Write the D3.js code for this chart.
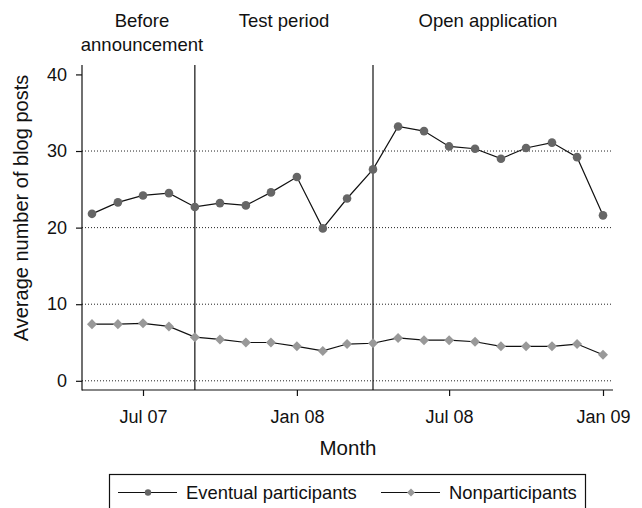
<!DOCTYPE html>
<html>
<head>
<meta charset="utf-8">
<script src="https://cdn.jsdelivr.net/npm/d3@7"></script>
<style>
  body { margin: 0; background: #fff; }
  text { font-family: "Liberation Sans", Arial, sans-serif; fill: #111; }
</style>
</head>
<body>
<div id="chart"></div>
<script>
const months = [
  "2007-05", "2007-06", "2007-07", "2007-08", "2007-09", "2007-10", "2007-11",
  "2007-12", "2008-01", "2008-02", "2008-03", "2008-04", "2008-05", "2008-06",
  "2008-07", "2008-08", "2008-09", "2008-10", "2008-11", "2008-12", "2009-01"
];
const eventual = [21.8, 23.3, 24.2, 24.5, 22.7, 23.2, 22.9, 24.6, 26.6, 19.9, 23.8,
  27.6, 33.2, 32.6, 30.6, 30.3, 29.0, 30.4, 31.1, 29.2, 21.6];
const nonpart = [7.4, 7.4, 7.5, 7.1, 5.7, 5.4, 5.0, 5.0, 4.5, 3.9, 4.8,
  4.9, 5.6, 5.3, 5.3, 5.1, 4.5, 4.5, 4.5, 4.8, 3.4];
const yTicks = [0, 10, 20, 30, 40];
const gridValues = [0, 10, 20, 30];
const xTicks = ["2007-07", "2008-01", "2008-07", "2009-01"];
const xTickLabels = ["Jul 07", "Jan 08", "Jul 08", "Jan 09"];
const periodBreaks = ["2007-09", "2008-04"];
const periodLabels = [
  { lines: ["Before", "announcement"], x: 142 },
  { lines: ["Test period"], x: 284 },
  { lines: ["Open application"], x: 488 }
];

const parse = d3.timeParse("%Y-%m");
const size = { width: 642, height: 508 };
const plot = { left: 82, right: 613, top: 65, bottom: 390 };

const svg = d3.select("#chart").append("svg")
  .attr("width", size.width)
  .attr("height", size.height);

const x = d3.scaleTime()
  .domain([parse("2007-07"), parse("2009-01")])
  .range([143, 603]);
const y = d3.scaleLinear().domain([-1.2, 41.23]).range([plot.bottom, plot.top]);

// dotted grid
svg.selectAll("line.grid").data(gridValues).join("line")
  .attr("class", "grid")
  .attr("x1", plot.left).attr("x2", plot.right - 1)
  .attr("y1", (d) => y(d)).attr("y2", (d) => y(d))
  .attr("stroke", "#222").attr("stroke-width", 1)
  .attr("stroke-dasharray", "1,2");

// period lines
svg.selectAll("line.period").data(periodBreaks).join("line")
  .attr("class", "period")
  .attr("x1", (d) => x(parse(d))).attr("x2", (d) => x(parse(d)))
  .attr("y1", plot.top).attr("y2", plot.bottom)
  .attr("stroke", "#111").attr("stroke-width", 1.2);

// axes
const yAxis = svg.append("g")
  .attr("transform", `translate(${plot.left},0)`)
  .call(d3.axisLeft(y).tickValues(yTicks).tickSize(6).tickSizeOuter(0).tickPadding(9));
const xAxis = svg.append("g")
  .attr("transform", `translate(0,${plot.bottom})`)
  .call(d3.axisBottom(x).tickValues(xTicks.map(parse)).tickSize(6).tickPadding(14)
    .tickFormat((d, i) => xTickLabels[i]));
[yAxis, xAxis].forEach((g) => {
  g.select(".domain").remove();
  g.selectAll("line").attr("stroke", "#111").attr("stroke-width", 1.2);
  g.selectAll("text").attr("font-size", 18).attr("fill", "#111")
    .style("font-family", "'Liberation Sans', Arial, sans-serif");
});
svg.append("line").attr("x1", plot.left).attr("x2", plot.left)
  .attr("y1", plot.top).attr("y2", plot.bottom + 0.6)
  .attr("stroke", "#111").attr("stroke-width", 1.2);
svg.append("line").attr("x1", plot.left).attr("x2", plot.right)
  .attr("y1", plot.bottom).attr("y2", plot.bottom)
  .attr("stroke", "#111").attr("stroke-width", 1.2);

// series
const line = d3.line().x((d) => x(parse(d.m))).y((d) => y(d.v));
const evData = months.map((m, i) => ({ m, v: eventual[i] }));
const npData = months.map((m, i) => ({ m, v: nonpart[i] }));

svg.append("path").datum(evData).attr("d", line)
  .attr("fill", "none").attr("stroke", "#111").attr("stroke-width", 1.2);
svg.append("path").datum(npData).attr("d", line)
  .attr("fill", "none").attr("stroke", "#111").attr("stroke-width", 1.2);

svg.selectAll("circle.ev").data(evData).join("circle")
  .attr("class", "ev")
  .attr("cx", (d) => x(parse(d.m))).attr("cy", (d) => y(d.v))
  .attr("r", 4.3).attr("fill", "#666");

const diamond = d3.symbol().type(d3.symbolDiamond2).size(64);
svg.selectAll("path.np").data(npData).join("path")
  .attr("class", "np")
  .attr("d", diamond)
  .attr("transform", (d) => `translate(${x(parse(d.m))},${y(d.v)})`)
  .attr("fill", "#999");

// period labels
periodLabels.forEach((p) => {
  const t = svg.append("text").attr("text-anchor", "middle").attr("font-size", 18.5);
  p.lines.forEach((l, i) => {
    t.append("tspan").attr("x", p.x).attr("y", 27 + i * 24).text(l);
  });
});

// axis titles
svg.append("text").attr("x", 348).attr("y", 455).attr("text-anchor", "middle")
  .attr("font-size", 20.5).text("Month");
svg.append("text").attr("transform", "translate(28,208) rotate(-90)")
  .attr("text-anchor", "middle").attr("font-size", 20)
  .text("Average number of blog posts");

// legend
const lg = svg.append("g");
lg.append("rect").attr("x", 109.5).attr("y", 474.5).attr("width", 476).attr("height", 40)
  .attr("fill", "none").attr("stroke", "#111").attr("stroke-width", 1.2);
const legendItems = [
  { label: "Eventual participants", x0: 118, type: "circle", fill: "#666" },
  { label: "Nonparticipants", x0: 381, type: "diamond", fill: "#999" }
];
legendItems.forEach((it) => {
  lg.append("line").attr("x1", it.x0).attr("x2", it.x0 + 59)
    .attr("y1", 492.5).attr("y2", 492.5).attr("stroke", "#111").attr("stroke-width", 1.2);
  if (it.type === "circle") {
    lg.append("circle").attr("cx", it.x0 + 30).attr("cy", 492.5).attr("r", 3.2).attr("fill", it.fill);
  } else {
    lg.append("path").attr("d", d3.symbol().type(d3.symbolDiamond2).size(40))
      .attr("transform", `translate(${it.x0 + 30},492.5)`).attr("fill", it.fill);
  }
  lg.append("text").attr("x", it.x0 + 68).attr("y", 498.5).attr("font-size", 18.4).text(it.label);
});
</script>
</body>
</html>
